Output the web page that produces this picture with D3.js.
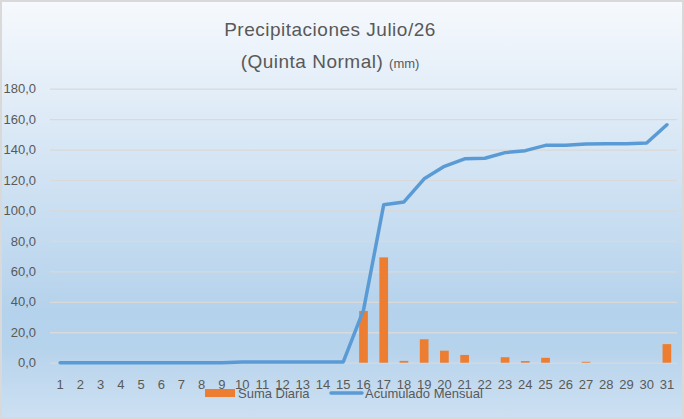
<!DOCTYPE html>
<html>
<head>
<meta charset="utf-8">
<script src="https://cdn.jsdelivr.net/npm/d3@7"></script>
<style>
  body { margin: 0; background: #fff; }
  svg { display: block; font-family: "Liberation Sans", Arial, sans-serif; }
</style>
</head>
<body>
<svg class="chart" width="684" height="419"></svg>
<script>
// days of july
var days = d3.range(1, 32);

// daily rain (mm)
var dailyRain = [0, 0, 0, 0, 0, 0, 0, 0, 0, 0.5, 0, 0, 0, 0, 0,
  34.0, 69.2, 1.2, 15.4, 7.9, 5.1, 0, 3.6, 1.1, 3.2, 0, 0.6, 0, 0, 0, 12.2];

// monthly accumulated (mm)
var accumulated = [0, 0, 0, 0, 0, 0, 0, 0, 0, 0.5, 0.5, 0.5, 0.5, 0.5, 0.5,
  34.5, 103.8, 105.6, 120.8, 129.0, 133.9, 134.3, 138.0, 139.3, 142.8, 142.8, 143.7, 143.8, 143.9, 144.3, 156.3];

var yTicks = [0, 20, 40, 60, 80, 100, 120, 140, 160, 180];

var svg = d3.select(".chart"),
    width = +svg.attr("width"),
    height = +svg.attr("height");

var textColor = "#595959";

// background gradient like excel "light gradient"
var defs = svg.append("defs");
var grad = defs.append("linearGradient")
    .attr("id", "bg")
    .attr("x1", 0).attr("y1", 0).attr("x2", 0).attr("y2", 1);
grad.append("stop").attr("offset", "0%").attr("stop-color", "#f6f9fd");
grad.append("stop").attr("offset", "74%").attr("stop-color", "#b5d2ec");
grad.append("stop").attr("offset", "83%").attr("stop-color", "#b6d3ec");
grad.append("stop").attr("offset", "100%").attr("stop-color", "#cde0f2");

svg.append("rect")
    .attr("x", 1).attr("y", 1)
    .attr("width", width - 2).attr("height", height - 2)
    .attr("fill", "url(#bg)")
    .attr("stroke", "#d9d9d9")
    .attr("stroke-width", 2);

// title
var title = svg.append("text")
    .attr("text-anchor", "middle")
    .attr("fill", textColor)
    .style("letter-spacing", "0.5px");
title.append("tspan")
    .attr("x", 330).attr("y", 36)
    .style("font-size", "19px")
    .text("Precipitaciones Julio/26");
var t2 = title.append("tspan")
    .attr("x", 330).attr("y", 68)
    .style("font-size", "19px")
    .text("(Quinta Normal) ");
title.append("tspan")
    .style("font-size", "13px")
    .style("letter-spacing", "0px")
    .text("(mm)");

// scales
var margin = {left: 50, right: 7, top: 88.7, bottom: 56.3};
var x = d3.scaleBand()
    .domain(days)
    .range([margin.left, width - margin.right]);

var y = d3.scaleLinear()
    .domain([0, 180])
    .range([height - margin.bottom, margin.top]);

var fmt = d3.formatLocale({decimal: ",", thousands: ".", grouping: [3], currency: ["$", ""]}).format(".1f");

// y axis + gridlines
var yAxis = svg.append("g")
    .attr("transform", "translate(" + margin.left + ",0)")
    .call(d3.axisLeft(y)
      .tickValues(yTicks)
      .tickFormat(fmt)
      .tickSizeInner(-(width - margin.left - margin.right))
      .tickSizeOuter(0)
      .tickPadding(14));
yAxis.select(".domain").remove();
yAxis.selectAll(".tick line").attr("stroke", "#d9d9d9").attr("stroke-width", 1.3);
yAxis.selectAll(".tick text")
    .attr("fill", textColor)
    .style("font-size", "13px")
    .style("font-family", "Liberation Sans, Arial, sans-serif");

// bars
var barW = x.bandwidth() * 0.43;
svg.append("g").selectAll("rect")
    .data(days)
    .enter().append("rect")
      .attr("x", function(d) { return x(d) + (x.bandwidth() - barW) / 2; })
      .attr("y", function(d, i) { return y(dailyRain[i]); })
      .attr("width", barW)
      .attr("height", function(d, i) { return y(0) - y(dailyRain[i]); })
      .attr("fill", "#ed7d31");

// accumulated line
var line = d3.line()
    .x(function(d, i) { return x(days[i]) + x.bandwidth() / 2; })
    .y(function(d) { return y(d); });

svg.append("path")
    .datum(accumulated)
    .attr("d", line)
    .attr("fill", "none")
    .attr("stroke", "#5b9bd5")
    .attr("stroke-width", 3.5)
    .attr("stroke-linejoin", "round")
    .attr("stroke-linecap", "round");

// x axis
var xAxis = svg.append("g")
    .attr("transform", "translate(0," + y(0) + ")")
    .call(d3.axisBottom(x).tickSize(0).tickPadding(17));
xAxis.select(".domain").remove();
xAxis.selectAll(".tick text")
    .attr("fill", textColor)
    .style("font-size", "13px")
    .style("font-family", "Liberation Sans, Arial, sans-serif");

// legend
var legend = svg.append("g").style("font-size", "13px").attr("fill", textColor);
legend.append("rect")
    .attr("x", 205).attr("y", 389)
    .attr("width", 30).attr("height", 8)
    .attr("fill", "#ed7d31");
legend.append("text")
    .attr("x", 238).attr("y", 397.5)
    .text("Suma Diaria");
legend.append("line")
    .attr("x1", 331).attr("x2", 362)
    .attr("y1", 393).attr("y2", 393)
    .attr("stroke", "#5b9bd5")
    .attr("stroke-width", 3.5)
    .attr("stroke-linecap", "round");
legend.append("text")
    .attr("x", 365).attr("y", 397.5)
    .text("Acumulado Mensual");
</script>
</body>
</html>
